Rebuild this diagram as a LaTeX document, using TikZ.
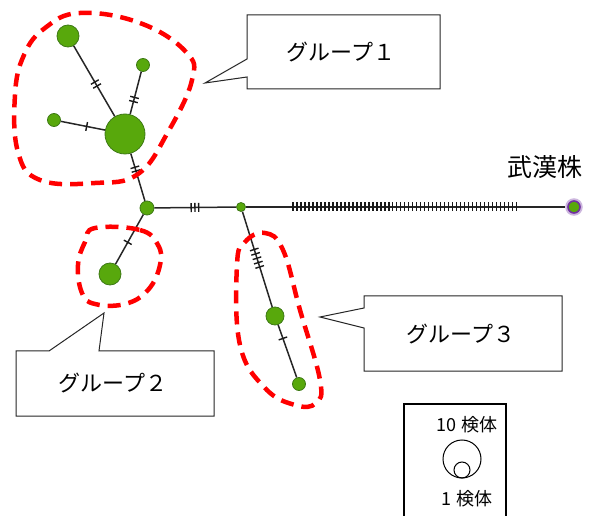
\documentclass[tikz,border=0pt]{standalone}
\usepackage{fontspec}
\newfontfamily\jpfont{Noto Sans CJK JP}
\usetikzlibrary{calc}
\definecolor{hapgreen}{RGB}{88,168,12}
\definecolor{hapedge}{RGB}{62,122,22}
\definecolor{grpred}{RGB}{255,0,0}
\definecolor{wuhanpurple}{RGB}{112,48,160}

\tikzset{
  hap/.style={circle, draw=hapedge, fill=hapgreen, line width=0.8pt, inner sep=0pt, minimum size=#1},
  link/.style={line width=1.5pt, black!85},
  mutmark/.style={sloped, fill=black!90, inner sep=0pt, minimum width=1.4pt, minimum height=9pt},
  grp/.style={draw=grpred, line width=4.5pt, dash pattern=on 13pt off 8pt},
  calloutline/.style={draw=black!85, line width=1pt, fill=white, line join=miter},
  lbl/.style={font=\jpfont\fontsize{22}{26}\selectfont},
  legendlbl/.style={font=\jpfont\fontsize{18}{22}\selectfont},
}

\begin{document}
\begin{tikzpicture}[x=1pt, y=-1pt]
    \useasboundingbox (0,0) rectangle (590,516);

    % haplotype nodes
    \node [hap=22pt] (g1top)   at (68,36)  {};
    \node [hap=13pt] (g1right) at (143,65) {};
    \node [hap=13pt] (g1left)  at (54,120) {};
    \node [hap=40pt] (g1hub)   at (125,134) {};
    \node [hap=14pt] (hub)     at (147,208) {};
    \node [hap=9pt]  (split)   at (241,207) {};
    \node [hap=22pt] (g2)      at (110,274) {};
    \node [hap=18pt] (g3mid)   at (275,316) {};
    \node [hap=13pt] (g3end)   at (299,384) {};
    \node [circle, inner sep=0pt, minimum size=15pt, draw=wuhanpurple!35, line width=2.5pt] (wuhanglow) at (574,207) {};
    \node [hap=12pt, draw=wuhanpurple, line width=1.6pt] (wuhan) at (574,207) {};

    % links with mutation marks
    \foreach \a/\b/\marks in {g1top/g1hub/{0.47,0.51}, g1right/g1hub/{0.47,0.53},
        g1left/g1hub/{0.46}, g1hub/hub/{0.45,0.5}, hub/g2/{0.52},
        hub/split/{0.47,0.51,0.55}, split/g3mid/{0.39,0.43,0.47,0.51,0.55},
        g3mid/g3end/{0.33}}{
        \draw [link] (\a) -- (\b);
        \foreach \t in \marks
            \path (\a.center) -- (\b.center) node [pos=\t, mutmark] {};
    }
    \draw [link] (split) -- (wuhanglow);
    \foreach \i [evaluate=\i as \p using 0.156+0.012*\i] in {0,...,56}
        \path (split.center) -- (wuhan.center) node [pos=\p, mutmark] {};

    % groups
    \draw [grp] plot [smooth cycle, tension=0.7] coordinates {(80,13) (140,23) (186,52)
        (192,80) (168,132) (138,174) (95,183) (40,180) (18,152) (15,95) (24,55) (45,28)};
    \draw [grp] plot [smooth cycle, tension=0.7] coordinates {(95,228) (140,230) (158,245)
        (160,265) (148,290) (125,304) (95,304) (82,293) (78,265) (85,242)};
    \draw [grp] plot [smooth cycle, tension=0.7] coordinates {(245,242) (265,233) (283,250)
        (300,310) (320,380) (316,403) (295,405) (265,388) (240,345) (237,265)};

    % callouts
    \draw [calloutline] (247,15) -- (440,15) -- (440,89) -- (247,89) -- (247,77)
        -- (205,83) -- (247,59) -- cycle;
    \node [lbl] (lab1) at (341,52) {グループ１};
    \draw [calloutline] (16,351) -- (49,351) -- (104,313) -- (99,351) -- (214,351)
        -- (214,416) -- (16,416) -- cycle;
    \node [lbl] (lab2) at (113,383) {グループ２};
    \draw [calloutline] (364,296) -- (562,296) -- (562,371) -- (364,371) -- (364,328)
        -- (320,317) -- (364,308) -- cycle;
    \node [lbl] (lab3) at (461,334) {グループ３};

    \node [font=\jpfont\fontsize{25}{30}\selectfont] (wuhanlab) at (545,167) {武漢株};

    % legend
    \draw [line width=1.8pt] (404,520) |- (506,404) -- (506,520);
    \node [legendlbl] (leg10) at (467,425) {10 検体};
    \draw [line width=1pt] (462,459) circle (19);
    \draw [line width=1pt] (462,470) circle (8);
    \node [legendlbl] (leg1) at (467,499) {1 検体};
\end{tikzpicture}
\end{document}
